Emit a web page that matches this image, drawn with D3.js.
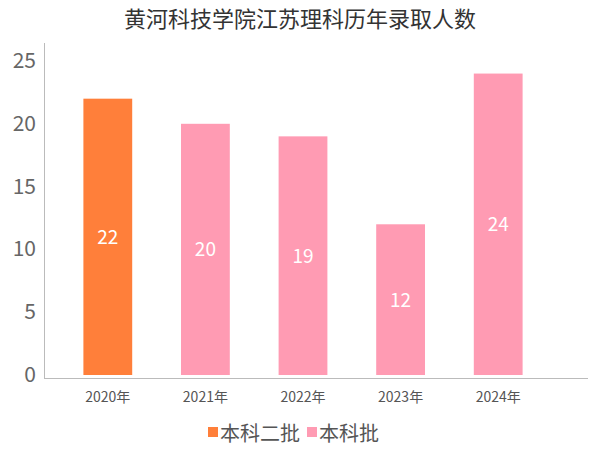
<!DOCTYPE html><html><head><meta charset="utf-8"><script src="https://cdn.jsdelivr.net/npm/d3@7"></script>
<style>body{margin:0;background:#fff}text{font-family:"Noto Sans CJK SC","Noto Sans",sans-serif}</style></head><body>
<svg id="c" width="600" height="450"></svg>
<script>
const categories=["2020年","2021年","2022年","2023年","2024年"];
const seriesNames=["本科二批","本科批"];
const seriesOf=["本科二批","本科批","本科批","本科批","本科批"];
const values=[22,20,19,12,24];
const yTicks=[0,5,10,15,20,25];
const colors={"本科二批":"#FF7F3A","本科批":"#FF9BB3"};
const svg=d3.select("#c");
const x=d3.scaleBand().domain(categories).range([59,547]).paddingInner(0.5).paddingOuter(0.25);
const y=d3.scaleLinear().domain([0,25]).range([375,61]);
svg.append("text").attr("x",300).attr("y",27).attr("text-anchor","middle").attr("font-size",22).attr("fill","#333").text("黄河科技学院江苏理科历年录取人数");
svg.append("line").attr("x1",44.5).attr("x2",44.5).attr("y1",43).attr("y2",378).attr("stroke","#bbb");
svg.append("line").attr("x1",44).attr("x2",588).attr("y1",378.5).attr("y2",378.5).attr("stroke","#bbb");
svg.selectAll(".yt").data(yTicks).enter().append("text").attr("x",36).attr("y",d=>y(d)+7).attr("text-anchor","end").attr("font-size",21).attr("fill","#666").text(d=>d);
svg.selectAll(".xt").data(categories).enter().append("text").attr("x",d=>x(d)+x.bandwidth()/2).attr("y",402).attr("text-anchor","middle").attr("font-size",14).attr("fill","#555").text(d=>d);
svg.selectAll(".bar").data(values).enter().append("rect").attr("x",(d,i)=>x(categories[i])).attr("width",x.bandwidth()).attr("y",d=>y(d)).attr("height",d=>y(0)-y(d)).attr("fill",(d,i)=>colors[seriesOf[i]]);
svg.selectAll(".lbl").data(values).enter().append("text").attr("x",(d,i)=>x(categories[i])+x.bandwidth()/2).attr("y",d=>(y(d)+y(0))/2+7).attr("text-anchor","middle").attr("font-size",19).attr("fill","#fff").text(d=>d);
const lg=svg.append("g");
let lx=208;
seriesNames.forEach(n=>{lg.append("rect").attr("x",lx).attr("y",427).attr("width",10).attr("height",10).attr("fill",colors[n]);
const t=lg.append("text").attr("x",lx+12).attr("y",441).attr("font-size",20).attr("fill","#555").text(n);lx+=12+t.node().getComputedTextLength()+7;});
</script></body></html>
